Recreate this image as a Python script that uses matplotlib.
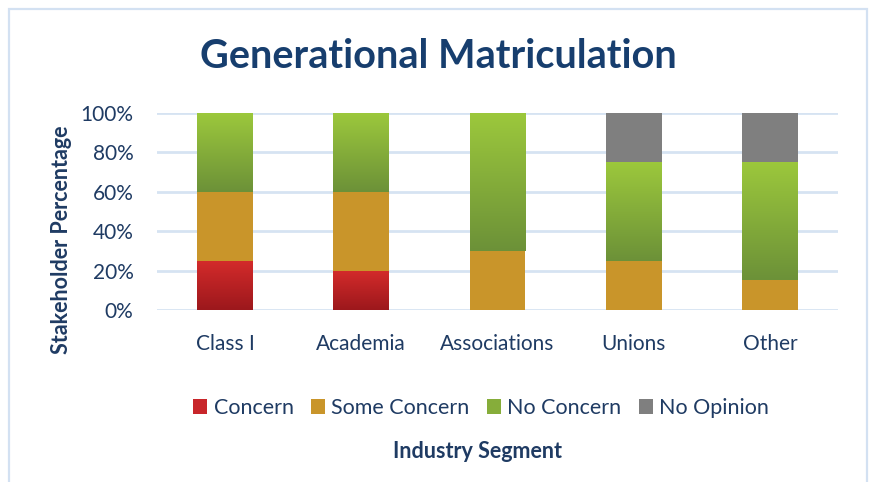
import matplotlib
matplotlib.use("Agg")
import matplotlib.pyplot as plt
import numpy as np
from matplotlib.patches import Rectangle, Patch
from matplotlib.colors import LinearSegmentedColormap

categories = ["Class I", "Academia", "Associations", "Unions", "Other"]
concern = [25, 20, 0, 0, 0]
some_concern = [35, 40, 30, 25, 15]
no_concern = [40, 40, 70, 50, 60]
no_opinion = [0, 0, 0, 25, 25]
series_names = ["Concern", "Some Concern", "No Concern", "No Opinion"]
yticks = [0, 20, 40, 60, 80, 100]

FONT = "Lato"
TXT = "#1F3B63"
TITLE_C = "#173E6E"

plt.rcParams['font.family'] = [FONT, 'DejaVu Sans']

fig = plt.figure(figsize=(8.7, 4.82), dpi=100)
W, H = 870, 482
ax = fig.add_axes([157 / W, 1 - 310 / H, (838 - 157) / W, (310 - 113) / H])

# border
fig.patches.append(Rectangle((9.5 / W, -0.05), (867.5 - 9.5) / W, 1 - 8.5 / H + 0.05,
                             transform=fig.transFigure, fill=False,
                             edgecolor="#D3E1F2", linewidth=1.6, zorder=0))

x = np.arange(len(categories))
width = 0.41

grads = {
    "Concern": ("#9C181C", "#D42B2B"),
    "No Concern": ("#6C9138", "#9CC83C"),
}
solid = {
    "Concern": "#C8262A",
    "Some Concern": "#C9952A",
    "No Concern": "#86AD3A",
    "No Opinion": "#7F7F7F",
}

bottom = np.zeros(len(categories))
data = [concern, some_concern, no_concern, no_opinion]
for name, vals in zip(series_names, data):
    vals = np.array(vals, dtype=float)
    bars = ax.bar(x, vals, width, bottom=bottom, color=solid[name], zorder=3, linewidth=0)
    if name in grads:
        cmap = LinearSegmentedColormap.from_list(name, list(grads[name]))
        grad = np.linspace(0, 1, 256).reshape(-1, 1)
        for b in bars:
            if b.get_height() <= 0:
                continue
            bx, by, bw, bh = b.get_x(), b.get_y(), b.get_width(), b.get_height()
            im = ax.imshow(grad, cmap=cmap, origin="lower", aspect="auto",
                           extent=(bx, bx + bw, by, by + bh), zorder=4,
                           interpolation="bilinear")
            im.set_clip_path(b)
    bottom += vals

ax.set_xlim(-0.5, len(categories) - 0.5)
ax.set_ylim(0, 100)
ax.set_yticks(yticks)
ax.set_yticklabels([f"{v}%" for v in yticks])
ax.set_xticks(x)
ax.set_xticklabels(categories)
ax.tick_params(axis="both", length=0, labelsize=15, colors=TXT)
ax.tick_params(axis="x", pad=17)
ax.tick_params(axis="y", pad=17)
for s in ax.spines.values():
    s.set_visible(False)
ax.grid(axis="y", color="#D6E3F2", linewidth=2.0, zorder=0)
ax.set_axisbelow(True)

fig.text(438.5 / W, 1 - 56 / H, "Generational Matriculation", ha="center", va="center",
         fontsize=28.5, fontweight="bold", color=TITLE_C)
fig.text(61 / W, 1 - 240 / H, "Stakeholder Percentage", ha="center", va="center",
         rotation=90, fontsize=15.5, fontweight="bold", color=TXT)
fig.text(478 / W, 1 - 451 / H, "Industry Segment", ha="center", va="center",
         fontsize=15.5, fontweight="bold", color=TXT)

handles = [Patch(facecolor=solid[n], edgecolor="none") for n in series_names]
leg = fig.legend(handles, series_names, loc="center", bbox_to_anchor=(481 / W, 1 - 408 / H),
                 ncol=4, frameon=False, fontsize=15.5, handlelength=0.65, handleheight=0.65,
                 handletextpad=0.3, columnspacing=0.8, borderaxespad=0)
for t in leg.get_texts():
    t.set_color(TXT)

fig.savefig("out.png", dpi=100, facecolor="white")
